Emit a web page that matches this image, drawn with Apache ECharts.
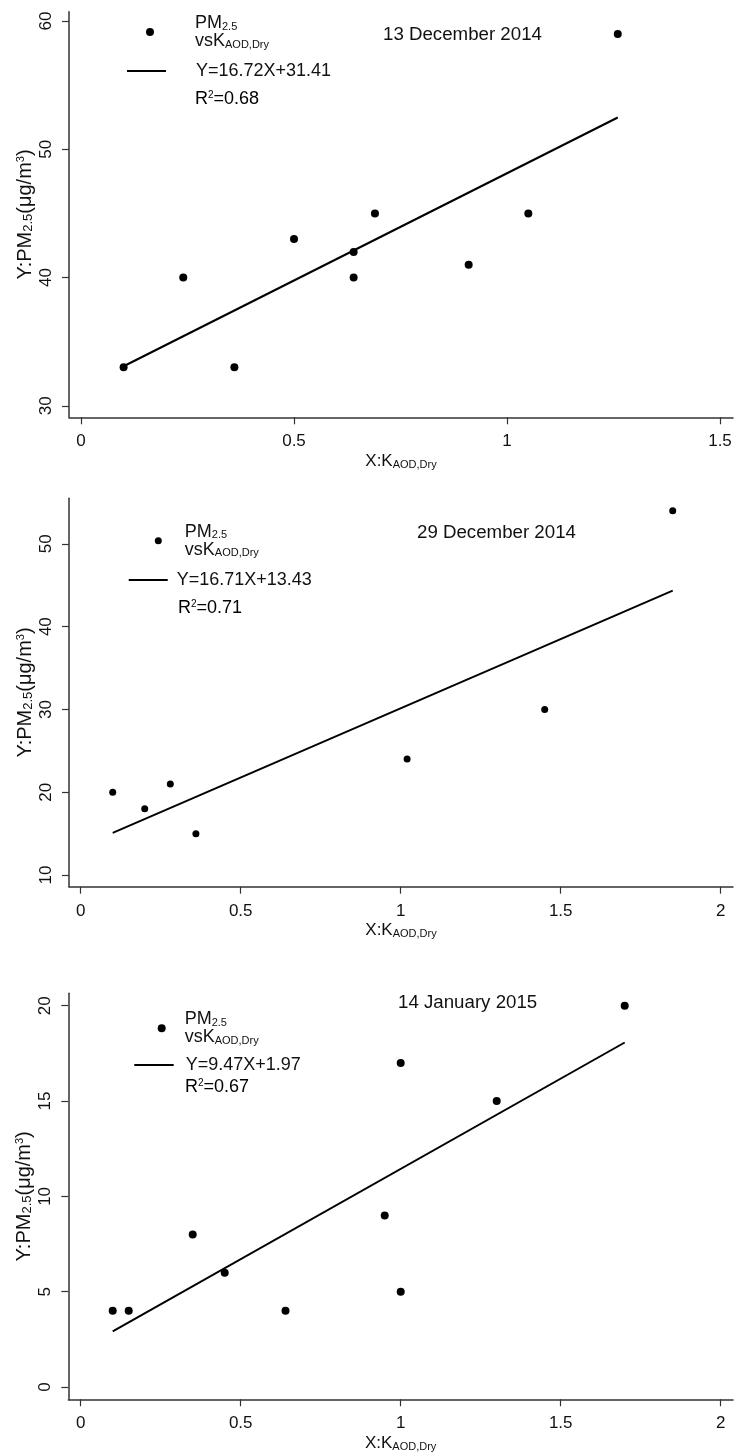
<!DOCTYPE html>
<html><head><meta charset="utf-8">
<script src="https://cdn.jsdelivr.net/npm/echarts@6/dist/echarts.min.js"></script>
<style>html,body{margin:0;padding:0;background:#fff}#c{width:735px;height:1454px}</style>
</head><body><div id="c"></div>
<script>
// ---------- DATA ----------
// Panel 1 : 13 December 2014
const p1Date = '13 December 2014';
const p1X = [0.10, 0.24, 0.36, 0.50, 0.64, 0.64, 0.69, 0.91, 1.05, 1.26];
const p1Y = [33, 40, 33, 43, 42, 40, 45, 41, 45, 59];
const p1FitX = [0.10, 1.26];
const p1FitY = [33.08, 52.48];
const p1Eq = 'Y=16.72X+31.41';
const p1R2 = '0.68';
const p1XTicks = [0, 0.5, 1, 1.5];
const p1YTicks = [30, 40, 50, 60];

// Panel 2 : 29 December 2014
const p2Date = '29 December 2014';
const p2X = [0.10, 0.20, 0.28, 0.36, 1.02, 1.45, 1.85];
const p2Y = [20, 18, 21, 15, 24, 30, 54];
const p2FitX = [0.10, 1.85];
const p2FitY = [15.10, 44.34];
const p2Eq = 'Y=16.71X+13.43';
const p2R2 = '0.71';
const p2XTicks = [0, 0.5, 1, 1.5, 2];
const p2YTicks = [10, 20, 30, 40, 50];

// Panel 3 : 14 January 2015
const p3Date = '14 January 2015';
const p3X = [0.10, 0.15, 0.35, 0.45, 0.64, 0.95, 1.00, 1.00, 1.30, 1.70];
const p3Y = [4, 4, 8, 6, 4, 9, 5, 17, 15, 20];
const p3FitX = [0.10, 1.70];
const p3FitY = [2.92, 18.07];
const p3Eq = 'Y=9.47X+1.97';
const p3R2 = '0.67';
const p3XTicks = [0, 0.5, 1, 1.5, 2];
const p3YTicks = [0, 5, 10, 15, 20];

// ---------- LAYOUT / STYLE ----------
const F = '"Liberation Sans", Arial, sans-serif';
const TXT = '#111';
const AX = '#333';
const RICH = {
  m: {fontSize: 18, fontFamily: F, color: TXT, lineHeight: 18},
  n: {fontSize: 17, fontFamily: F, color: TXT, lineHeight: 18},
  s: {fontSize: 11, fontFamily: F, color: TXT, lineHeight: 11, verticalAlign: 'bottom'},
  p: {fontSize: 10, fontFamily: F, color: TXT, lineHeight: 10, verticalAlign: 'top'},
  yn: {fontSize: 20, fontFamily: F, color: TXT, lineHeight: 20},
  ys: {fontSize: 13, fontFamily: F, color: TXT, lineHeight: 13, verticalAlign: 'bottom'},
  yp: {fontSize: 11, fontFamily: F, color: TXT, lineHeight: 11, verticalAlign: 'top'}
};

const panels = [
  {date: p1Date, xs: p1X, ys: p1Y, fx: p1FitX, fy: p1FitY, eq: p1Eq, r2: p1R2, xt: p1XTicks, yt: p1YTicks,
   grid: {left: 69, top: 11.7, width: 664, height: 405.6},
   xr: [-0.0282, 1.5305], yr: [29.1, 60.73], sym: 8,
   dot: [150, 32], dotPad: 36, line: [126, 71, 39], linePad: 25,
   r2Pos: [195, 99], datePos: [383, 35]},
  {date: p2Date, xs: p2X, ys: p2Y, fx: p2FitX, fy: p2FitY, eq: p2Eq, r2: p2R2, xt: p2XTicks, yt: p2YTicks,
   grid: {left: 69, top: 498.3, width: 664, height: 388.4},
   xr: [-0.0366, 2.0384], yr: [8.59, 55.5], sym: 7,
   dot: [158.3, 540.7], dotPad: 18, line: [127.7, 580, 39], linePad: 4,
   r2Pos: [178, 608], datePos: [417, 533]},
  {date: p3Date, xs: p3X, ys: p3Y, fx: p3FitX, fy: p3FitY, eq: p3Eq, r2: p3R2, xt: p3XTicks, yt: p3YTicks,
   grid: {left: 68.3, top: 993.3, width: 664.7, height: 406},
   xr: [-0.0388, 2.0384], yr: [-0.642, 20.65], sym: 8,
   dot: [161.7, 1028.3], dotPad: 14, line: [133.3, 1065, 39.4], linePad: 7,
   r2Pos: [185, 1087.5], datePos: [398, 1003]}
];

const grids = [], xAxes = [], yAxes = [], series = [], legends = [], graphics = [];
panels.forEach((P, i) => {
  grids.push(Object.assign({containLabel: false, outerBoundsMode: 'none'}, P.grid));
  xAxes.push({
    type: 'value', gridIndex: i, min: P.xr[0], max: P.xr[1],
    name: '{n|X:K}{s|AOD,Dry}', nameLocation: 'middle', nameGap: 35, nameMoveOverlap: false,
    nameTextStyle: {rich: RICH},
    axisLine: {show: true, onZero: false, lineStyle: {color: AX, width: 1.5}},
    axisTick: {show: true, length: 7, customValues: P.xt, lineStyle: {color: AX, width: 1.2}},
    axisLabel: {customValues: P.xt, margin: 16, fontSize: 17, fontFamily: F, color: TXT,
      formatter: v => String(v)},
    splitLine: {show: false}
  });
  yAxes.push({
    type: 'value', gridIndex: i, min: P.yr[0], max: P.yr[1],
    name: '{yn|Y:PM}{ys|2.5}{yn|(μg/m}{yp|3}{yn|)}', nameLocation: 'middle', nameGap: 34, nameMoveOverlap: false,
    nameTextStyle: {rich: RICH},
    axisLine: {show: true, onZero: false, lineStyle: {color: AX, width: 1.5}},
    axisTick: {show: true, length: 7, customValues: P.yt, lineStyle: {color: AX, width: 1.2}},
    axisLabel: {customValues: P.yt, margin: 14, rotate: 90, fontSize: 17, fontFamily: F, color: TXT,
      formatter: v => String(v)},
    splitLine: {show: false}
  });
  const scName = 'PM2.5 vs K_AOD,Dry (' + P.date + ')';
  series.push({
    type: 'scatter', name: scName, xAxisIndex: i, yAxisIndex: i,
    symbol: 'circle', symbolSize: P.sym, itemStyle: {color: '#000', opacity: 1},
    data: P.xs.map((x, k) => [x, P.ys[k]])
  });
  series.push({
    type: 'line', name: P.eq, xAxisIndex: i, yAxisIndex: i,
    symbol: 'none', lineStyle: {color: '#000', width: 2}, itemStyle: {color: '#000'},
    data: P.fx.map((x, k) => [x, P.fy[k]])
  });
  legends.push({
    orient: 'vertical', left: P.dot[0] - P.sym / 2, top: P.dot[1] - 18, padding: 0, itemGap: 0,
    itemWidth: P.sym, itemHeight: P.sym, selectedMode: false,
    itemStyle: {opacity: 1},
    data: [{name: scName, icon: 'circle'}],
    formatter: () => '{m|PM}{s|2.5}\n{m|vsK}{s|AOD,Dry}',
    textStyle: {rich: RICH, fontSize: 18, fontFamily: F, color: TXT, padding: [0, 0, 0, P.dotPad]}
  });
  legends.push({
    orient: 'vertical', left: P.line[0], top: P.line[1] - 9, padding: 0, itemGap: 0,
    itemWidth: P.line[2], itemHeight: 2, selectedMode: false,
    itemStyle: {opacity: 0},
    lineStyle: {color: '#000', width: 2, opacity: 1},
    data: [{name: P.eq}],
    formatter: n => '{m|' + n + '}',
    textStyle: {rich: RICH, fontSize: 18, fontFamily: F, color: TXT, padding: [0, 0, 0, P.linePad]}
  });
  graphics.push({
    type: 'text', x: P.r2Pos[0], y: P.r2Pos[1],
    style: {text: '{m|R}{p|2}{m|=' + P.r2 + '}', rich: RICH, verticalAlign: 'middle', align: 'left'}
  });
  graphics.push({
    type: 'text', x: P.datePos[0], y: P.datePos[1],
    style: {text: P.date, font: '18.7px ' + F, fill: TXT, verticalAlign: 'middle', align: 'left'}
  });
});

const chart = echarts.init(document.getElementById('c'), null, {renderer: 'canvas'});
chart.setOption({
  backgroundColor: '#fff',
  animation: false,
  grid: grids, xAxis: xAxes, yAxis: yAxes, series: series, legend: legends,
  graphic: graphics
});
</script></body></html>
